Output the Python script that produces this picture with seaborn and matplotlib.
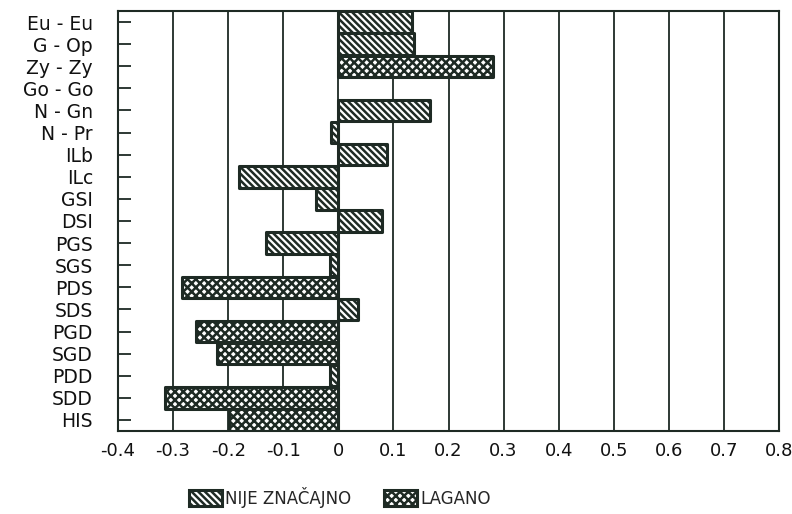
import matplotlib
matplotlib.use("Agg")
import matplotlib.pyplot as plt
from matplotlib.patches import Patch
from matplotlib.font_manager import FontProperties
import seaborn as sns
import pandas as pd

# Measurements, top to bottom
labels = ["Eu - Eu", "G - Op", "Zy - Zy", "Go - Go", "N - Gn", "N - Pr", "ILb", "ILc",
          "GSI", "DSI", "PGS", "SGS", "PDS", "SDS", "PGD", "SGD", "PDD", "SDD", "HIS"]
values = [0.133, 0.138, 0.280, 0.0, 0.167, -0.013, 0.088, -0.181,
          -0.041, 0.080, -0.132, -0.015, -0.283, 0.035, -0.259, -0.221, -0.015, -0.315, -0.198]
groups = ["NIJE ZNAČAJNO", "NIJE ZNAČAJNO", "LAGANO", "NIJE ZNAČAJNO", "NIJE ZNAČAJNO",
          "NIJE ZNAČAJNO", "NIJE ZNAČAJNO", "NIJE ZNAČAJNO", "NIJE ZNAČAJNO", "NIJE ZNAČAJNO",
          "NIJE ZNAČAJNO", "NIJE ZNAČAJNO", "LAGANO", "NIJE ZNAČAJNO", "LAGANO", "LAGANO",
          "NIJE ZNAČAJNO", "LAGANO", "LAGANO"]
group_order = ["NIJE ZNAČAJNO", "LAGANO"]
x_ticks = [-0.4, -0.3, -0.2, -0.1, 0, 0.1, 0.2, 0.3, 0.4, 0.5, 0.6, 0.7, 0.8]
x_ticklabels = ["-0.4", "-0.3", "-0.2", "-0.1", "0", "0.1", "0.2", "0.3", "0.4",
                "0.5", "0.6", "0.7", "0.8"]

ink = "#1e2a24"
hatches = {"NIJE ZNAČAJNO": "\\\\\\\\\\", "LAGANO": "xxxx"}

df = pd.DataFrame({"label": labels, "value": values, "group": groups})

sns.set_theme(style="white")
plt.rcParams["font.family"] = ["DejaVu Sans"]
plt.rcParams["hatch.linewidth"] = 1.8
plt.rcParams["hatch.color"] = ink

fig = plt.figure(figsize=(7.92, 5.14), dpi=100)
ax = fig.add_axes([118 / 792, 1 - 431 / 514, (779 - 118) / 792, (431 - 11) / 514])

# vertical grid lines behind the bars
for xt in x_ticks[1:-1]:
    ax.axvline(xt, color=ink, lw=1.3, zorder=0)

sns.barplot(data=df, x="value", y="label", hue="group", hue_order=group_order,
            order=labels, orient="h", dodge=False, width=0.97,
            palette={g: "white" for g in group_order}, legend=False, ax=ax, zorder=2)

for cont, g in zip(ax.containers, group_order):
    for bar in cont:
        if bar.get_width() == 0:
            bar.set_visible(False)
            continue
        bar.set_hatch(hatches[g])
        bar.set_edgecolor(ink)
        bar.set_linewidth(2.2)
        bar.set_joinstyle("round")

ax.set_xlim(-0.4, 0.8)
ax.set_ylim(len(labels) - 0.5, -0.5)
ax.set_xticks(x_ticks)
ax.set_xticklabels(x_ticklabels, fontsize=13, color="#111111")
ax.set_yticks(range(len(labels)))
ax.set_yticklabels(labels, fontsize=13.5, color="#111111")
ax.set_xlabel("")
ax.set_ylabel("")
ax.tick_params(axis="y", direction="in", length=9, width=1.3, color=ink, pad=18, left=True)
ax.tick_params(axis="x", length=0, pad=8)
for s in ax.spines.values():
    s.set_color(ink)
    s.set_linewidth(1.5)
    s.set_visible(True)

legend_font = FontProperties(family=["DejaVu Sans"], size=12)
handles = [Patch(facecolor="white", edgecolor=ink, hatch=hatches[g], linewidth=2.2, label=g)
           for g in group_order]
fig.legend(handles=handles, loc="center", bbox_to_anchor=(340 / 792, 1 - 497 / 514),
           ncol=2, frameon=False, prop=legend_font, handlelength=1.95, handleheight=1.05,
           handletextpad=0.2, columnspacing=2.0)

fig.savefig("out.png", dpi=100, facecolor="white")
